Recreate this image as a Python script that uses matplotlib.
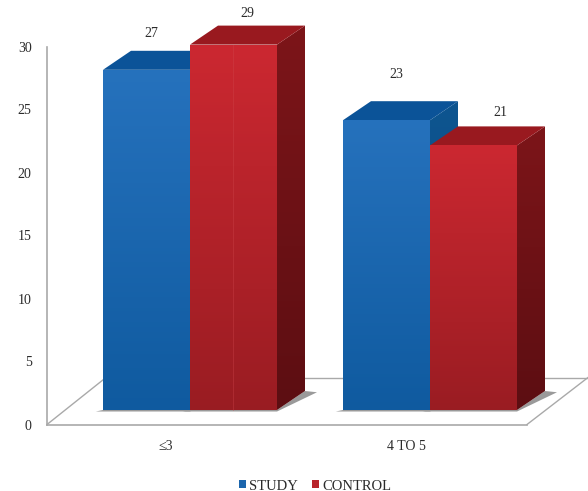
import numpy as np
import matplotlib
matplotlib.use('Agg')
import matplotlib.pyplot as plt
from matplotlib.colors import LinearSegmentedColormap
from matplotlib.patches import Patch, Polygon

plt.rcParams['font.family'] = ['Liberation Serif', 'DejaVu Serif']

'''
DATA
'''

categories = ['≤3', '4 TO 5']
series_names = ['STUDY', 'CONTROL']
study = [27, 23]
control = [29, 21]
y_ticks = [0, 5, 10, 15, 20, 25, 30]

'''
STYLE
'''

W, H = 588, 491
AX_L, AX_R, AX_T, AX_B = 47, 588, 46.5, 424.5   # pixels, from top left
PX_X = 240.0    # pixels per category
PX_Y = 12.6     # pixels per unit
BAR_W = 87 / PX_X
DX = 28 / PX_X          # depth of the fake 3d
DY = 19 / PX_Y
BASE = 14.5 / PX_Y      # bars stand a bit behind the front edge of the floor
TICK_SHIFT = 24 / PX_X  # axis labels sit left of the bars

GRID = '#a9a9a9'
TEXT = '#2b2b2b'

BLUE = dict(front=('#2672bd', '#0f5a9f'), top='#0b5398', side=('#0e5590', '#0a4a80'))
RED = dict(front=('#cc2831', '#991c22'), top='#99191f', side=('#7d1519', '#5c0e12'))

# small nudges of the value labels, in pixels
label_dx = [[5, 14], [10, 27]]
label_dy = [[21, 16], [31, 18]]

fig = plt.figure(figsize=(W / 100, H / 100), dpi=100, facecolor='white')
ax = fig.add_axes([AX_L / W, 1 - AX_B / H, (AX_R - AX_L) / W, (AX_B - AX_T) / H])
xlim = ((AX_L - 190) / PX_X, (AX_R - 190) / PX_X)
ylim = (0, (AX_B - AX_T) / PX_Y)


def face(verts, c_top, c_bottom, zorder):
    # polygon filled with a vertical gradient
    xs = [v[0] for v in verts]
    ys = [v[1] for v in verts]
    cmap = LinearSegmentedColormap.from_list('f', [c_top, c_bottom])
    grad = np.linspace(0, 1, 128).reshape(-1, 1)
    # image a bit larger than the polygon so the clip edge stays clean
    im = ax.imshow(grad, cmap=cmap, aspect='auto', zorder=zorder, interpolation='nearest',
                   extent=(min(xs) - 0.02, max(xs) + 0.02, min(ys) - 0.3, max(ys) + 0.3))
    clip = Polygon(verts, closed=True, transform=ax.transData)
    im.set_clip_path(clip)
    # tall bars go above the axes box
    im.set_clip_box(fig.bbox)


def bar3d(x0, value, st, zorder):
    x1 = x0 + BAR_W
    y0 = BASE
    y1 = BASE + value
    # shadow on the floor
    ax.add_patch(Polygon([(x0 - 0.03, y0 - 0.12), (x1, y0 - 0.12), (x1 + DX + 0.05, y0 + DY - 0.1),
                          (x1 + DX, y0 + DY), (x1, y0), (x0, y0)],
                         closed=True, fc='#9a9a9a', ec='none', zorder=zorder - 0.1, clip_on=False))
    face([(x1, y0), (x1 + DX, y0 + DY), (x1 + DX, y1 + DY), (x1, y1)], st['side'][0], st['side'][1], zorder)
    ax.add_patch(Polygon([(x0, y1), (x1, y1), (x1 + DX, y1 + DY), (x0 + DX, y1 + DY)],
                         closed=True, fc=st['top'], ec='none', zorder=zorder, clip_on=False))
    face([(x0, y0), (x1, y0), (x1, y1), (x0, y1)], st['front'][0], st['front'][1], zorder + 0.01)


# floor
floor_dx = 59 / PX_X
floor_dy = 47 / PX_Y
floor_right = (527 - 190) / PX_X
ax.plot([xlim[0], xlim[0] + floor_dx], [0, floor_dy], color=GRID, lw=1, zorder=1, clip_on=False)
ax.plot([xlim[0] + floor_dx, xlim[1]], [floor_dy, floor_dy], color=GRID, lw=1, zorder=1, clip_on=False)
ax.plot([floor_right, floor_right + floor_dx + 2 / PX_X], [0, floor_dy], color=GRID, lw=1, zorder=1, clip_on=False)
ax.plot([xlim[0], floor_right], [0, 0], color=GRID, lw=1.2, zorder=1, clip_on=False)

for i in range(len(categories)):
    z = 3 + 2 * i
    bar3d(i - BAR_W, study[i], BLUE, z)
    bar3d(i, control[i], RED, z + 1)
    for j, val in enumerate([study[i], control[i]]):
        bx = i - BAR_W + j * BAR_W + BAR_W / 2
        ax.annotate(str(val), (bx, BASE + val + DY), xytext=(label_dx[i][j] * 0.72, label_dy[i][j] * 0.72 - 3),
                    textcoords='offset points', ha='center', va='center',
                    fontsize=10, color=TEXT, zorder=20, annotation_clip=False)

# faint seam on the first red bar
ax.plot([BAR_W / 2, BAR_W / 2], [BASE, BASE + control[0]], color='#d0484e', lw=0.6, alpha=0.4, zorder=6, clip_on=False)

ax.set_xlim(xlim)
ax.set_ylim(ylim)
ax.set_xticks([i - TICK_SHIFT for i in range(len(categories))])
ax.set_xticklabels(categories)
ax.set_yticks(y_ticks)
ax.tick_params(axis='both', length=0, labelsize=10, labelcolor=TEXT)
ax.tick_params(axis='x', pad=11)
ax.tick_params(axis='y', pad=11)
for s in ['top', 'right', 'bottom']:
    ax.spines[s].set_visible(False)
ax.spines['left'].set_color(GRID)
ax.spines['left'].set_linewidth(1.2)
ax.patch.set_alpha(0)

handles = [Patch(fc='#1c66ad', label=series_names[0]), Patch(fc='#b8242b', label=series_names[1])]
fig.legend(handles=handles, loc='center', bbox_to_anchor=(315 / W, 1 - 486 / H), ncol=2, frameon=False,
           fontsize=10.5, handlelength=0.5, handleheight=0.5, handletextpad=0.25, columnspacing=0.9,
           labelcolor=TEXT, borderpad=0)

fig.savefig('out.png', dpi=100)
